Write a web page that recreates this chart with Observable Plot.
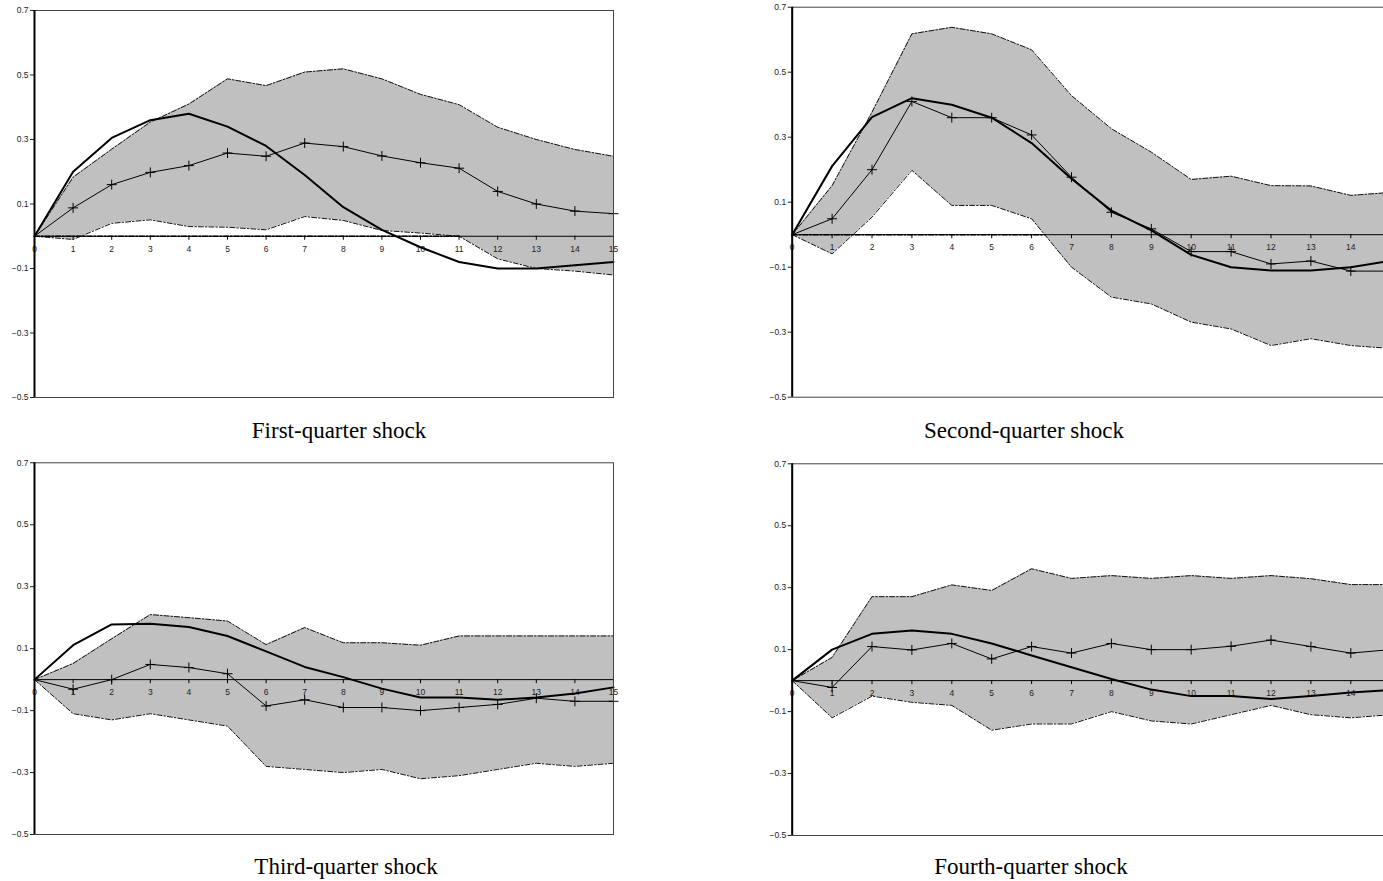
<!DOCTYPE html>
<html><head><meta charset="utf-8">
<script src="https://cdn.jsdelivr.net/npm/d3@7"></script>
<script src="https://cdn.jsdelivr.net/npm/@observablehq/plot@0.6"></script>
<style>
html,body{margin:0;padding:0;background:#fff;overflow:hidden;}
#root{position:relative;width:1383px;height:881px;overflow:hidden;background:#fff;}
.panel{position:absolute;}
#overlay{position:absolute;left:0;top:0;pointer-events:none;}
</style></head><body><div id="root"></div>
<script>
// Horizon (quarters after shock) and tick labels
const horizons = [0,1,2,3,4,5,6,7,8,9,10,11,12,13,14,15];
const yTicks = [-0.5,-0.3,-0.1,0.1,0.3,0.5,0.7];
const titles = ["First-quarter shock","Second-quarter shock","Third-quarter shock","Fourth-quarter shock"];

// First-quarter shock
const q1Thick = [0,0.20,0.305,0.36,0.38,0.34,0.28,0.19,0.09,0.02,-0.034,-0.08,-0.10,-0.10,-0.09,-0.08];
const q1Plus  = [0,0.088,0.16,0.198,0.219,0.258,0.248,0.289,0.278,0.249,0.228,0.211,0.139,0.10,0.078,0.07];
const q1Upper = [0,0.183,0.27,0.354,0.41,0.488,0.467,0.509,0.519,0.488,0.44,0.408,0.338,0.30,0.269,0.248];
const q1Lower = [0,-0.01,0.04,0.051,0.03,0.028,0.02,0.061,0.049,0.018,0.01,0,-0.07,-0.10,-0.108,-0.12];

// Second-quarter shock
const q2Thick = [0,0.211,0.362,0.42,0.40,0.36,0.282,0.172,0.074,0.013,-0.062,-0.10,-0.11,-0.11,-0.10,-0.08];
const q2Plus  = [0,0.049,0.20,0.41,0.36,0.36,0.307,0.177,0.069,0.018,-0.052,-0.052,-0.09,-0.081,-0.112,-0.112];
const q2Upper = [0,0.151,0.377,0.618,0.638,0.618,0.569,0.428,0.326,0.254,0.17,0.18,0.151,0.15,0.121,0.13];
const q2Lower = [0,-0.059,0.054,0.198,0.09,0.09,0.049,-0.10,-0.192,-0.213,-0.269,-0.29,-0.341,-0.32,-0.341,-0.35];

// Third-quarter shock
const q3Thick = [0,0.111,0.178,0.18,0.17,0.141,0.091,0.041,0.008,-0.029,-0.058,-0.058,-0.065,-0.058,-0.045,-0.025];
const q3Plus  = [0,-0.031,0,0.049,0.039,0.019,-0.085,-0.065,-0.09,-0.09,-0.10,-0.09,-0.08,-0.06,-0.07,-0.07];
const q3Upper = [0,0.052,0.132,0.21,0.20,0.189,0.113,0.168,0.119,0.119,0.111,0.141,0.141,0.141,0.141,0.141];
const q3Lower = [0,-0.11,-0.13,-0.11,-0.13,-0.15,-0.28,-0.29,-0.30,-0.29,-0.32,-0.31,-0.29,-0.27,-0.28,-0.27];

// Fourth-quarter shock
const q4Thick = [0,0.10,0.151,0.162,0.151,0.12,0.081,0.043,0.005,-0.029,-0.05,-0.05,-0.059,-0.05,-0.038,-0.03];
const q4Plus  = [0,-0.022,0.11,0.099,0.12,0.07,0.11,0.089,0.12,0.10,0.10,0.111,0.131,0.11,0.089,0.10];
const q4Upper = [0,0.075,0.271,0.271,0.309,0.291,0.361,0.33,0.339,0.33,0.339,0.33,0.339,0.329,0.31,0.31];
const q4Lower = [0,-0.12,-0.05,-0.07,-0.08,-0.16,-0.14,-0.14,-0.10,-0.13,-0.14,-0.11,-0.08,-0.11,-0.12,-0.11];

const root = document.getElementById("root");
const dash = "5,2,1.5,2";
const VIEW_W = 1383;

function zeroEdge(lower) {
  let last = -1;
  for (let i = 0; i < lower.length; i++) if (lower[i] >= 0) last = i;
  let end = last;
  if (last >= 0 && last < lower.length - 1) end = last + lower[last] / (lower[last] - lower[last + 1]);
  return end > 0 ? [{h: 0, v: 0}, {h: end, v: 0}] : [];
}

function panel(thick, plus, lower, upper, g) {
  const band = horizons.map((h, i) => ({h, lo: lower[i], hi: upper[i]}));
  const tk = horizons.map((h, i) => ({h, v: thick[i]}));
  const pl = horizons.map((h, i) => ({h, v: plus[i]}));
  // only label the ticks that fall inside the visible window
  const pw = g.w - g.ml - g.mr;
  const labels = horizons.filter(h => g.left + g.ml + (h / 15) * pw < VIEW_W - 8);
  const chart = Plot.plot({
    width: g.w, height: g.h,
    marginLeft: g.ml, marginTop: g.mt, marginRight: g.mr, marginBottom: g.mb,
    style: {background: "transparent", overflow: "visible", fontSize: "8.5px", fontFamily: "'Liberation Sans', Arial, sans-serif", color: "#222"},
    x: {domain: [0, 15], axis: null},
    y: {domain: [-0.5, 0.7], ticks: yTicks, tickFormat: d3.format(".1f"), tickSize: 4, tickPadding: 2, label: null},
    marks: [
      Plot.areaY(band, {x: "h", y1: "lo", y2: "hi", fill: "#c0c0c0"}),
      Plot.line(band, {x: "h", y: "hi", stroke: "#111", strokeWidth: 1, strokeDasharray: dash}),
      Plot.line(band, {x: "h", y: "lo", stroke: "#111", strokeWidth: 1, strokeDasharray: dash}),
      Plot.line(zeroEdge(lower), {x: "h", y: "v", stroke: "#000", strokeWidth: 1.5, strokeDasharray: dash}),
      Plot.ruleY([0], {stroke: "#000", strokeWidth: 1}),
      Plot.ruleX(horizons, {x: d => d, y1: 0, y2: 0, insetBottom: -4, stroke: "#000"}),
      Plot.text(labels, {x: d => d, y: 0, dy: 13, text: d => String(d), fontSize: 8.5, fill: "#222"}),
      Plot.line(tk, {x: "h", y: "v", stroke: "#000", strokeWidth: 2}),
      Plot.line(pl, {x: "h", y: "v", stroke: "#000", strokeWidth: 1}),
      Plot.dot(pl.slice(1), {x: "h", y: "v", symbol: "plus", r: 3.3, stroke: "#000", strokeWidth: 1}),
      Plot.frame({stroke: "#444", strokeWidth: 1}),
      Plot.ruleX([0], {stroke: "#000", strokeWidth: 2})
    ]
  });
  chart.classList.add("panel");
  chart.style.left = g.left + "px";
  chart.style.top = g.top + "px";
  root.appendChild(chart);
}

panel(q1Thick, q1Plus, q1Lower, q1Upper, {left: 0, top: 0, w: 640, h: 420, ml: 34, mt: 10, mr: 27, mb: 23});
panel(q2Thick, q2Plus, q2Lower, q2Upper, {left: 760, top: 0, w: 657, h: 420, ml: 31.7, mt: 6.7, mr: 26.8, mb: 23.3});
panel(q3Thick, q3Plus, q3Lower, q3Upper, {left: 0, top: 452, w: 640, h: 405, ml: 34, mt: 10.3, mr: 27, mb: 23});
panel(q4Thick, q4Plus, q4Lower, q4Upper, {left: 760, top: 452, w: 657, h: 406, ml: 31.7, mt: 11.3, mr: 26.8, mb: 23});

// Panel titles
const titlePos = [[339, 438], [1024, 438], [346, 874], [1031, 874]];
const ov = d3.select(root).append("svg").attr("id", "overlay").attr("width", 1383).attr("height", 881);
ov.selectAll("text").data(titles).join("text")
  .attr("x", (d, i) => titlePos[i][0]).attr("y", (d, i) => titlePos[i][1])
  .attr("text-anchor", "middle")
  .attr("font-family", "'Liberation Serif', 'Times New Roman', serif")
  .attr("font-size", 23).attr("fill", "#000")
  .text(d => d);
</script>
</body></html>
